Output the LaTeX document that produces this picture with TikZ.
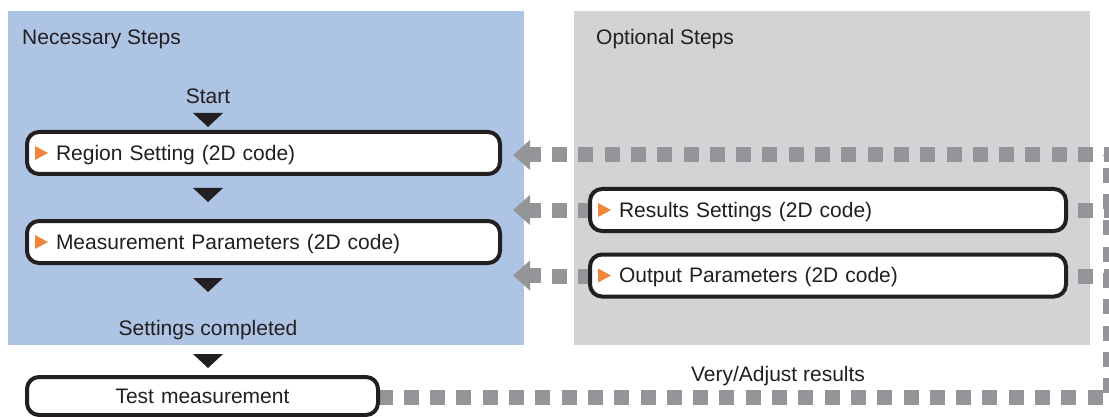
\documentclass[tikz,border=0pt]{standalone}
\usepackage{fontspec}
\setmainfont{Liberation Sans}
\usepackage{xcolor}
\usetikzlibrary{arrows.meta,calc}

\definecolor{needblue}{RGB}{173,196,228}
\definecolor{optgray}{RGB}{209,211,212}
\definecolor{dashgray}{RGB}{147,149,152}
\definecolor{markorange}{RGB}{241,133,60}
\definecolor{inkblack}{RGB}{35,31,32}

\tikzset{
  panel/.style={inner sep=0pt, anchor=north west, minimum width=516pt, minimum height=334pt},
  stepbox/.style={draw=inkblack, line width=4pt, rounded corners=12pt, fill=white, text=inkblack, align=left, inner xsep=29pt, inner ysep=0pt, text height=14.5pt, text depth=0pt, minimum height=42pt},
  dashln/.style={draw=dashgray, line width=15pt, dash pattern=on 15pt off 11.3pt},
  headln/.style={draw=dashgray, line width=15pt, -{Triangle[length=17pt,width=29pt]}},
  lbl/.style={text=inkblack, inner sep=0pt, text height=15pt, text depth=0pt},
}
\newcommand{\stepmark}[1]{\fill[markorange] ($(#1.west)+(10,-7)$) -- ++(0,14) -- ++(13,-7) -- cycle;}

\begin{document}
\begin{tikzpicture}[x=1pt, y=-1pt, font=\fontsize{21}{25}\selectfont]
\useasboundingbox (0,0) rectangle (1109,417);
\node[panel, fill=needblue] (necessary) at (8,11) {};
\node[panel, fill=optgray] (optional) at (574,11) {};
\node[lbl, anchor=west] (needtitle) at (22,37.5) {Necessary Steps};
\node[lbl, anchor=west] (opttitle) at (596,37.5) {Optional Steps};

\coordinate (ne) at (1110,155);
\coordinate (lane) at (552,155);
\coordinate (tail) at (541,155);
\coordinate (tip) at (513,155);

% dashed return lines
\draw[dashln, dash phase=14.6pt] (208,397) -- (ne |- 0,397) -- (ne);
\draw[dashln] (lane) -- (ne);
\draw[dashln] (lane |- 0,210) -- (ne |- 0,210);
\draw[dashln] (lane |- 0,276) -- (ne |- 0,276);

\node[stepbox, text width=415pt] (region) at (263.5,153) {Region Setting (2D code)};
\node[stepbox, text width=415pt] (measure) at (263.5,242) {Measurement Parameters (2D code)};
\node[stepbox, text width=418pt] (results) at (828,210) {Results Settings (2D code)};
\node[stepbox, text width=418pt] (output) at (828,275.5) {Output Parameters (2D code)};
\node[stepbox, text width=293pt, align=center, minimum height=38pt] (test) at (202.5,396) {Test measurement};
\stepmark{region}
\stepmark{measure}
\stepmark{results}
\stepmark{output}

\node[lbl] (start) at (208,96) {Start};
\node[lbl] (done) at (208,327.5) {Settings completed};
\node[lbl] (verify) at (778,373.5) {Very/Adjust results};

\foreach \ty in {113,188,278,354}
  \fill[inkblack] (193,\ty) -- (223,\ty) -- (208,\ty+14) -- cycle;

\draw[headln] (tail) -- (tip);
\draw[headln] (tail |- results) -- (tip |- results);
\draw[headln] (tail |- output) -- (tip |- output);
\end{tikzpicture}
\end{document}
